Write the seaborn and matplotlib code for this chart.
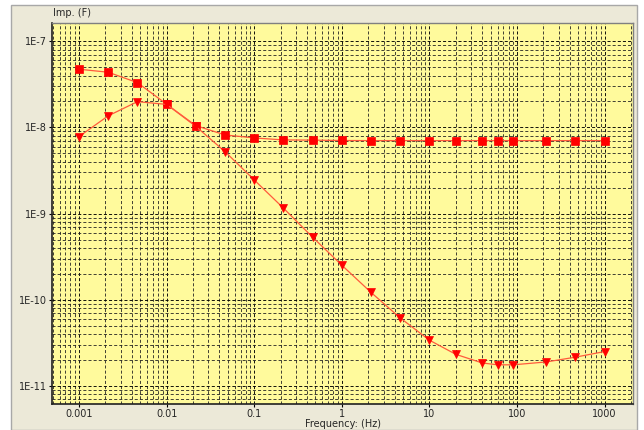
import numpy as np
import pandas as pd
import matplotlib
matplotlib.use("Agg")
import matplotlib.pyplot as plt
from matplotlib.patches import Rectangle
from matplotlib.ticker import FixedLocator, FixedFormatter, LogLocator, NullFormatter
import seaborn as sns

# ---- data ----
freq = [0.001, 0.00215, 0.00464, 0.01, 0.0215, 0.0464, 0.1, 0.215, 0.464,
        1, 2.15, 4.64, 10, 20, 40, 60, 90, 215, 464, 1000]
imp_square = [4.73e-8, 4.37e-8, 3.31e-8, 1.86e-8, 1.05e-8, 8.18e-9, 7.55e-9,
              7.16e-9, 7.12e-9, 7.05e-9, 7.03e-9, 7.03e-9, 7.03e-9, 7.03e-9,
              7.03e-9, 7.03e-9, 7.03e-9, 7.03e-9, 7.03e-9, 7.03e-9]
imp_triangle = [7.82e-9, 1.36e-8, 1.99e-8, 1.85e-8, 1.03e-8, 5.24e-9, 2.46e-9,
                1.16e-9, 5.32e-10, 2.52e-10, 1.22e-10, 6.16e-11, 3.40e-11,
                2.33e-11, 1.85e-11, 1.76e-11, 1.76e-11, 1.90e-11, 2.16e-11,
                2.51e-11]
xtick_vals = [0.001, 0.01, 0.1, 1, 10, 100, 1000]
xtick_labels = ["0.001", "0.01", "0.1", "1", "10", "100", "1000"]
ytick_vals = [1e-11, 1e-10, 1e-9, 1e-8, 1e-7]
ytick_labels = ["1E-11", "1E-10", "1E-9", "1E-8", "1E-7"]
x_label = "Frequency: (Hz)"
y_label = "Imp. (F)"

df_sq = pd.DataFrame({"freq": freq, "imp": imp_square})
df_tr = pd.DataFrame({"freq": freq, "imp": imp_triangle})

sns.set_style("ticks")
plt.rcParams["font.family"] = ["DejaVu Sans"]
plt.rcParams["lines.scale_dashes"] = False

W, H = 644, 430
fig = plt.figure(figsize=(W / 100, H / 100), dpi=100)
fig.patch.set_facecolor("white")
# beige window panel (behind everything)
panel = Rectangle((10.5 / W, 0), (637 - 10.5) / W, 1 - 5 / H,
                  transform=fig.transFigure, facecolor="#ECE9D8",
                  edgecolor="#A8A8A8", linewidth=1.0, zorder=-10)
fig.patches.append(panel)

ax = fig.add_axes([52.3 / W, 1 - 404 / H, (632.7 - 52.3) / W, (404 - 22.7) / H])
ax.set_zorder(1)
ax.set_facecolor("#FFFA9C")

line_color = "#FF5A3C"
sns.lineplot(data=df_sq, x="freq", y="imp", ax=ax, color=line_color, linewidth=0.9,
             marker="s", markersize=5.6, markerfacecolor="#FF0000",
             markeredgecolor="#FF0000", markeredgewidth=0.5, zorder=3)
sns.lineplot(data=df_tr, x="freq", y="imp", ax=ax, color=line_color, linewidth=0.9,
             marker="v", markersize=6.2, markerfacecolor="#FF0000",
             markeredgecolor="#FF0000", markeredgewidth=0.5, zorder=3)

ax.set_xscale("log")
ax.set_yscale("log")
ax.set_xlim(4.96e-4, 2090)
ax.set_ylim(6.18e-12, 1.64e-7)

ax.xaxis.set_major_locator(FixedLocator(xtick_vals))
ax.xaxis.set_major_formatter(FixedFormatter(xtick_labels))
ax.yaxis.set_major_locator(FixedLocator(ytick_vals))
ax.yaxis.set_major_formatter(FixedFormatter(ytick_labels))
ax.xaxis.set_minor_locator(LogLocator(base=10, subs=np.arange(2, 10), numticks=50))
ax.yaxis.set_minor_locator(LogLocator(base=10, subs=np.arange(2, 10), numticks=50))
ax.xaxis.set_minor_formatter(NullFormatter())
ax.yaxis.set_minor_formatter(NullFormatter())

grid_kw = dict(color="black", linestyle=(0, (2.2, 1.5)), linewidth=0.65)
ax.grid(True, which="major", **grid_kw)
ax.grid(True, which="minor", **dict(grid_kw, color="#222222", linewidth=0.6))
ax.set_axisbelow(True)

ax.tick_params(axis="both", which="major", labelsize=7, length=2, width=0.8,
               color="black", pad=2)
ax.tick_params(axis="both", which="minor", length=0)
ax.tick_params(axis="x", pad=1.5)

for side in ["left", "bottom"]:
    ax.spines[side].set_color("#202020")
    ax.spines[side].set_linewidth(1.2)
for side in ["top", "right"]:
    ax.spines[side].set_color("#808080")
    ax.spines[side].set_linewidth(1.0)

ax.set_xlabel("")
ax.set_ylabel("")
fig.text(52.7 / W, 1 - 13.5 / H, y_label, ha="left", va="center", fontsize=7)
fig.text(342.5 / W, 1 - 424 / H, x_label, ha="center", va="center", fontsize=7)

fig.savefig("out.png", dpi=100, facecolor=fig.get_facecolor())
